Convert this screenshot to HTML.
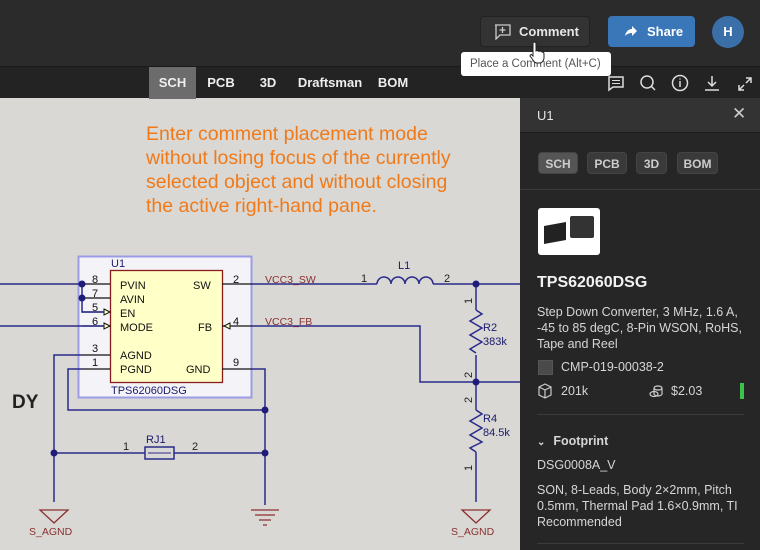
<!DOCTYPE html>
<html><head><meta charset="utf-8"><style>
*{margin:0;padding:0;box-sizing:border-box}
body{width:760px;height:550px;overflow:hidden;background:#d9d8d4;font-family:"Liberation Sans",sans-serif;position:relative}
.abs{position:absolute}
.top{left:0;top:0;width:760px;height:66px;background:#2b2b2b}
.tabs{left:0;top:66px;width:760px;height:32px;background:#232323;border-top:1px solid #1a1a1a}
.tab{position:absolute;top:0;height:32px;line-height:32px;color:#eee;font-size:13px;font-weight:bold;text-align:center}
.pane{left:520px;top:98px;width:240px;height:452px;background:#262626;color:#ddd}
.pt{position:absolute;font-size:12.5px;color:#d6d6d6;left:17px}
.btn{position:absolute;top:54px;height:22px;line-height:22px;background:#3a3a3a;border:1px solid #444;border-radius:4px;color:#ccc;font-size:12px;text-align:center;font-weight:bold}
</style></head><body>
<div class="abs top"></div>
<div class="abs" style="left:480px;top:16px;width:110px;height:31px;background:#333;border:1px solid #222;border-radius:4px;color:#e6e6e6;font-size:13px;font-weight:bold;line-height:30px;padding-left:38px">Comment</div>
<svg class="abs" style="left:494px;top:24px" width="18" height="16"><path d="M1 1h15v10H6l-4 4V1z" fill="none" stroke="#ccc" stroke-width="1.3"/><path d="M8.5 3v6M5.5 6h6" stroke="#ccc" stroke-width="1.3"/></svg>
<div class="abs" style="left:608px;top:16px;width:87px;height:31px;background:#3a77b8;border-radius:4px;color:#fff;font-size:13px;font-weight:bold;line-height:31px;padding-left:39px">Share</div>
<svg class="abs" style="left:624px;top:25px" width="14" height="12"><path d="M1 11C2 6 5 4 8 4V1l5 5-5 5V8C5 8 3 9 1 11z" fill="#fff"/></svg>
<div class="abs" style="left:712px;top:16px;width:32px;height:32px;border-radius:50%;background:#3a6fa8;color:#fff;font-weight:bold;font-size:13px;text-align:center;line-height:32px">H</div>
<div class="abs tabs">
<div class="tab" style="left:149px;width:47px;background:#6c6c6c">SCH</div>
<div class="tab" style="left:200px;width:42px">PCB</div>
<div class="tab" style="left:252px;width:32px">3D</div>
<div class="tab" style="left:296px;width:68px">Draftsman</div>
<div class="tab" style="left:372px;width:42px">BOM</div>
</div>
<svg class="abs" style="left:600px;top:72px" width="160" height="22" fill="none" stroke="#ddd" stroke-width="1.5">
<path d="M9 5h14v10H13l-4 3z"/><path d="M12 8.5h8M12 11.5h8" stroke-width="1"/>
<circle cx="47" cy="10" r="6"/><path d="M51 14l4 4"/>
<circle cx="80" cy="11" r="7.5"/><path d="M80 9v6M80 6.5v1"/>
<path d="M112 4v10M108 10l4 4 4-4M105 18h14"/>
<path d="M139 18l5-5M139 13v5h5M151 6l-5 5M151 11V6h-5"/>
</svg>
<div class="abs" style="left:461px;top:52px;width:150px;height:24px;background:#fff;border-radius:3px;color:#555;font-size:11.5px;line-height:24px;padding-left:9px">Place a Comment (Alt+C)</div>
<svg class="abs" style="left:528px;top:40px" width="20" height="24"><path d="M6 2c1.5 0 2 1 2 2v7l1-.5c1 0 2 1 2 1l1-.5c1 0 2 1 2 1 1 0 2 .5 2 2v4c0 2-2 5-4 5H9c-2 0-3-1-4-3l-3-4c0-1 1-2 2-1l1 1V4c0-1 0-2 1-2z" fill="#fff" stroke="#222" stroke-width="1"/></svg>

<svg class="abs" style="left:0;top:98px" width="520" height="452" font-family="Liberation Sans,sans-serif">
<g transform="translate(0,-98)">
<text x="146" y="140" fill="#f07a1a" font-size="19.5">Enter comment placement mode</text>
<text x="146" y="164" fill="#f07a1a" font-size="19.5">without losing focus of the currently</text>
<text x="146" y="188" fill="#f07a1a" font-size="19.5">selected object and without closing</text>
<text x="146" y="212" fill="#f07a1a" font-size="19.5">the active right-hand pane.</text>
<text x="12" y="408" fill="#222" font-size="19" font-weight="bold">DY</text>
<rect x="78.5" y="256.5" width="173" height="141" fill="#f4f4f8" stroke="#9b9be6" stroke-width="2"/>
<rect x="110.5" y="270.5" width="112" height="112" fill="#ffffc8" stroke="#8b1c1c" stroke-width="1.3"/>
<g font-size="11" fill="#111">
<text x="111" y="267" fill="#1a1a6a">U1</text>
<text x="120" y="289">PVIN</text><text x="120" y="303">AVIN</text><text x="120" y="317">EN</text><text x="120" y="331">MODE</text>
<text x="120" y="359">AGND</text><text x="120" y="373">PGND</text>
<text x="193" y="289">SW</text><text x="198" y="331">FB</text><text x="186" y="373">GND</text>
<text x="92" y="283">8</text><text x="92" y="297">7</text><text x="92" y="311">5</text><text x="92" y="325">6</text><text x="92" y="352">3</text><text x="92" y="366">1</text>
<text x="233" y="283">2</text><text x="233" y="325">4</text><text x="233" y="366">9</text>
<text x="111" y="394" fill="#1a1a6a">TPS62060DSG</text>
</g>
<g stroke="#111" stroke-width="1.3">
<path d="M82 284h28M82 298h28M82 312h28M82 326h28M82 355h28M82 369h28M222 284h30M222 326h30M222 369h30"/>
</g>
<g fill="#ffffc8" stroke="#111" stroke-width="1"><path d="M104 309l6 3-6 3z"/><path d="M104 323l6 3-6 3z"/><path d="M230 323l-6 3 6 3z"/></g>
<g stroke="#2a2a8a" stroke-width="1.5" fill="none">
<path d="M0 284h82M82 284v28h22M0 326h104"/>
<path d="M82 355H54V502M82 369H68v41h197M252 369h13v136"/>
<path d="M54 453h91M174 453h91"/>
<path d="M252 284h125M433 284h87M476 284v26M476 355v55M476 452v50"/>
<path d="M252 326h168v56h100"/>
<path d="M476 310l6 4-12 7 12 7-12 7 12 7-12 7 6 4"/>
<path d="M476 410l6 4-12 7 12 7-12 7 12 7-12 6 6 4"/>
<path d="M377 284a7 7 0 0 1 14 0a7 7 0 0 1 14 0a7 7 0 0 1 14 0a7 7 0 0 1 14 0"/>
<rect x="145" y="447" width="29" height="12"/>
<path d="M148 453h23" stroke-width="1"/>
</g>
<g fill="#1e1e7a"><circle cx="82" cy="284" r="3.5"/><circle cx="82" cy="298" r="3.5"/><circle cx="476" cy="284" r="3.5"/><circle cx="476" cy="382" r="3.5"/><circle cx="265" cy="410" r="3.5"/><circle cx="265" cy="453" r="3.5"/><circle cx="54" cy="453" r="3.5"/></g>
<g stroke="#8b3030" stroke-width="1.3" fill="none">
<path d="M40 510h28l-14 13z"/><path d="M462 510h28l-14 13z"/>
<path d="M251 510h28M255 515h20M259 520h12M263 525h4"/>
</g>
<g font-size="10.5" fill="#8b3030">
<text x="265" y="283">VCC3_SW</text><text x="265" y="325">VCC3_FB</text>
<text x="29" y="535">S_AGND</text><text x="451" y="535">S_AGND</text>
</g>
<g font-size="11" fill="#222">
<text x="361" y="282">1</text><text x="444" y="282">2</text><text x="398" y="269" fill="#1a1a6a">L1</text>
<text x="123" y="450">1</text><text x="192" y="450">2</text><text x="146" y="443" fill="#1a1a6a">RJ1</text>
<text x="483" y="331" fill="#1a1a6a">R2</text><text x="483" y="345" fill="#1a1a6a">383k</text>
<text x="483" y="422" fill="#1a1a6a">R4</text><text x="483" y="436" fill="#1a1a6a">84.5k</text>
<text transform="translate(472,304) rotate(-90)">1</text><text transform="translate(472,378) rotate(-90)">2</text>
<text transform="translate(472,403) rotate(-90)">2</text><text transform="translate(472,471) rotate(-90)">1</text>
</g>
</g></svg>

<div class="abs pane">
<div style="position:absolute;left:0;top:0;width:240px;height:35px;background:#333;border-bottom:1px solid #1c1c1c"></div>
<div style="position:absolute;left:17px;top:10px;font-size:13px;color:#e6e6e6">U1</div>
<div style="position:absolute;left:212px;top:6px;font-size:17px;color:#ccc">✕</div>
<div class="btn" style="left:18px;width:40px;background:#555">SCH</div>
<div class="btn" style="left:67px;width:40px">PCB</div>
<div class="btn" style="left:116px;width:31px">3D</div>
<div class="btn" style="left:157px;width:41px">BOM</div>
<div style="position:absolute;left:0;top:91px;width:240px;height:1px;background:#3c3c3c"></div>
<div style="position:absolute;left:18px;top:110px;width:62px;height:47px;background:#fff;border-radius:3px"></div>
<div style="position:absolute;left:24px;top:126px;width:22px;height:18px;background:#222;transform:skewY(-10deg)"></div>
<div style="position:absolute;left:50px;top:118px;width:24px;height:22px;background:#333;border-radius:2px"></div>
<div style="position:absolute;left:17px;top:176px;font-size:16px;font-weight:bold;color:#f2f2f2">TPS62060DSG</div>
<div class="pt" style="top:206px;line-height:16px">Step Down Converter, 3 MHz, 1.6 A,<br>-45 to 85 degC, 8-Pin WSON, RoHS,<br>Tape and Reel</div>
<div style="position:absolute;left:18px;top:262px;width:15px;height:15px;background:#4a4a4a;border:1px solid #555"></div>
<div class="pt" style="left:41px;top:262px">CMP-019-00038-2</div>
<svg style="position:absolute;left:17px;top:285px" width="16" height="16" fill="none" stroke="#ccc" stroke-width="1.2"><path d="M8 1l6 3v8l-6 3-6-3V4zM2 4l6 3 6-3M8 7v8"/></svg>
<div class="pt" style="left:41px;top:286px">201k</div>
<svg style="position:absolute;left:128px;top:286px" width="16" height="16" fill="none" stroke="#ccc" stroke-width="1.2"><ellipse cx="10" cy="4" rx="4" ry="2"/><path d="M6 4v6c0 1 2 2 4 2s4-1 4-2V4"/><ellipse cx="6" cy="10" rx="4" ry="2.5"/></svg>
<div class="pt" style="left:151px;top:286px">$2.03</div>
<div style="position:absolute;left:220px;top:285px;width:4px;height:16px;background:#3cc24a"></div>
<div style="position:absolute;left:17px;top:316px;width:207px;height:1px;background:#3c3c3c"></div>
<div class="pt" style="top:336px;font-weight:bold;font-size:12.5px"><span style="font-size:10px;margin-right:8px">&#8964;</span>Footprint</div>
<div class="pt" style="top:360px">DSG0008A_V</div>
<div class="pt" style="top:384px;line-height:16px">SON, 8-Leads, Body 2×2mm, Pitch<br>0.5mm, Thermal Pad 1.6×0.9mm, TI<br>Recommended</div>
<div style="position:absolute;left:17px;top:445px;width:207px;height:1px;background:#3c3c3c"></div>
</div>
</body></html>
